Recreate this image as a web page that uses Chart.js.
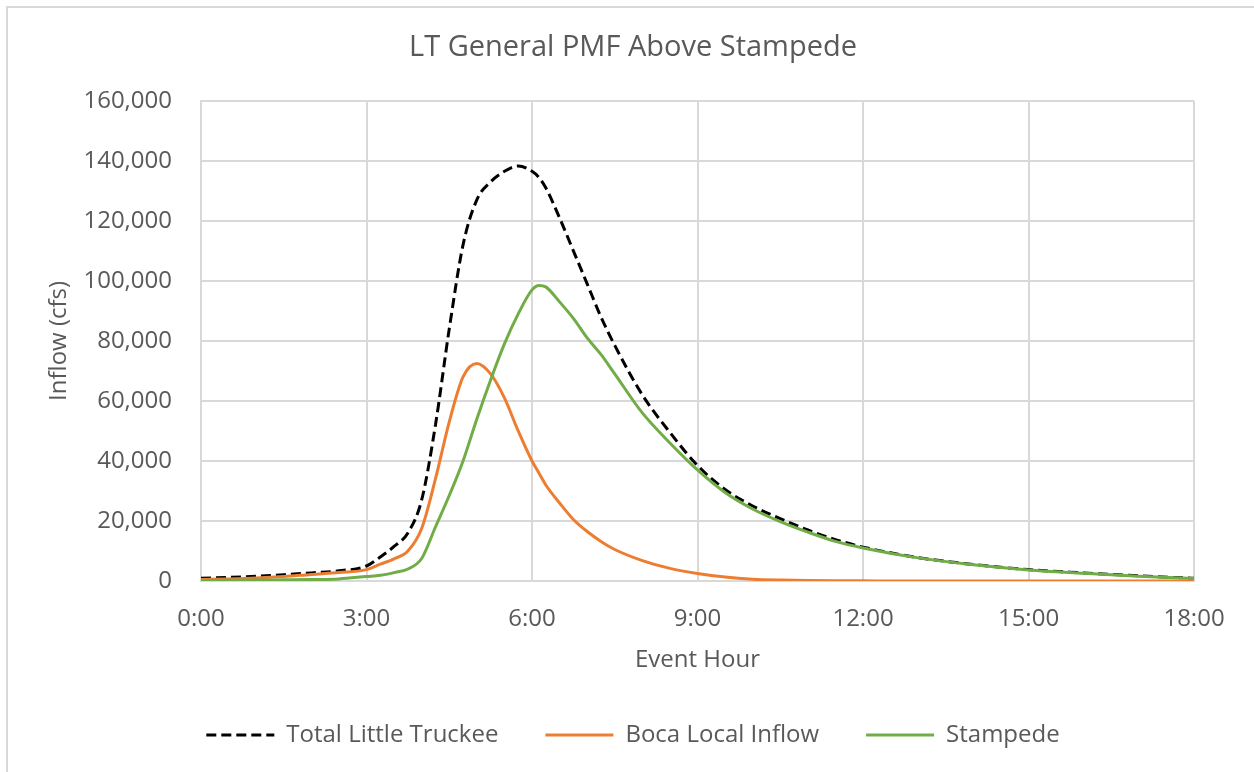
<!DOCTYPE html>
<html>
<head>
<meta charset="utf-8">
<script src="https://cdn.jsdelivr.net/npm/chart.js@4.4.1/dist/chart.umd.min.js"></script>
<style>
  html, body { margin: 0; padding: 0; background: #fff; }
  #wrap { position: absolute; left: 0; top: 0; width: 1254px; height: 772px; }
</style>
</head>
<body>
<div id="wrap"><canvas id="chart" width="1254" height="772"></canvas></div>
<script>
// Event hour of each sample (hours since start of the event)
const hours = [0, 0.5, 1, 1.5, 2, 2.5, 3, 3.25, 3.5, 3.75, 4, 4.25, 4.5, 4.75, 5, 5.25, 5.5, 5.75,
  6, 6.125, 6.25, 6.5, 6.75, 7, 7.25, 7.5, 8, 8.5, 9, 9.5, 10, 10.5, 11, 11.5, 12, 13, 14, 15, 16, 17, 18];

// Inflow (cfs)
const totalLittleTruckee = [900, 1200, 1600, 2100, 2700, 3400, 5000, 8000, 11500, 16000, 27000, 52000,
  84000, 112000, 127000, 133000, 136500, 138300, 136500, 134500, 131000, 121000, 110000, 99000, 88000, 78500,
  62000, 49500, 38500, 30500, 25000, 20800, 17000, 13800, 11300, 7800, 5500, 3800, 2700, 1700, 900];

const bocaLocalInflow = [500, 700, 1000, 1500, 2200, 2800, 3800, 5600, 7400, 10000, 17500, 34000,
  53000, 68000, 72500, 69000, 61000, 50000, 40000, 36000, 32000, 26000, 20500, 16500, 13200, 10500,
  6800, 4200, 2500, 1300, 600, 300, 150, 80, 50, 0, 0, 0, 0, 0, 0];

const stampede = [200, 250, 300, 400, 500, 700, 1500, 1900, 2800, 4000, 7500, 18000,
  28500, 40000, 54000, 67000, 79000, 89000, 97000, 98500, 98000, 93000, 87500, 81000, 75500, 69000,
  56000, 46000, 37000, 29500, 24000, 19800, 16300, 13200, 11000, 7700, 5400, 3700, 2600, 1600, 800];

// Axis ticks
const hourTicks = [0, 3, 6, 9, 12, 15, 18];
const inflowTicks = [0, 20000, 40000, 60000, 80000, 100000, 120000, 140000, 160000];

const FONT = "'Open Sans', 'DejaVu Sans', sans-serif";
const TEXT = '#595959';
const GRID = '#d9d9d9';

const toPoints = (ys) => hours.map((h, i) => ({ x: h, y: ys[i] }));

// Thin frame on the left and top edges of the chart
const framePlugin = {
  id: 'frame',
  beforeDraw(chart) {
    const ctx = chart.ctx;
    ctx.save();
    ctx.fillStyle = '#ffffff';
    ctx.fillRect(0, 0, chart.width, chart.height);
    ctx.strokeStyle = GRID;
    ctx.lineWidth = 2;
    ctx.beginPath();
    ctx.moveTo(7, chart.height);
    ctx.lineTo(7, 7);
    ctx.lineTo(chart.width, 7);
    ctx.stroke();
    ctx.restore();
  }
};

const chart = new Chart(document.getElementById('chart'), {
  type: 'line',
  data: {
    datasets: [
      {
        label: 'Total Little Truckee',
        data: toPoints(totalLittleTruckee),
        borderColor: '#000000',
        backgroundColor: '#000000',
        borderWidth: 3,
        borderDash: [10, 5],
        order: 3
      },
      {
        label: 'Boca Local Inflow',
        data: toPoints(bocaLocalInflow),
        borderColor: '#ED7D31',
        backgroundColor: '#ED7D31',
        borderWidth: 3,
        order: 2
      },
      {
        label: 'Stampede',
        data: toPoints(stampede),
        borderColor: '#70AD47',
        backgroundColor: '#70AD47',
        borderWidth: 3,
        order: 1
      }
    ]
  },
  options: {
    responsive: false,
    animation: false,
    devicePixelRatio: 1,
    elements: {
      point: { radius: 0, hoverRadius: 0 },
      line: { cubicInterpolationMode: 'monotone', fill: false }
    },
    layout: { padding: { left: 72, right: 60, top: 10, bottom: 15 } },
    plugins: {
      title: {
        display: true,
        text: 'LT General PMF Above Stampede',
        color: TEXT,
        font: { family: FONT, size: 29, weight: 'normal' },
        padding: { top: 20, bottom: 36 }
      },
      legend: {
        position: 'bottom',
        labels: {
          usePointStyle: true,
          pointStyle: 'line',
          pointStyleWidth: 68,
          color: TEXT,
          font: { family: FONT, size: 24 },
          padding: 47,
          sort: (a, b) => a.datasetIndex - b.datasetIndex,
          // legend swatches use each series' own line width and dash
          generateLabels: (c) => Chart.defaults.plugins.legend.labels.generateLabels(c).map((item) => {
            const ds = c.data.datasets[item.datasetIndex];
            item.lineDash = ds.borderDash || [];
            item.lineWidth = ds.borderWidth;
            item.strokeStyle = ds.borderColor;
            return item;
          })
        }
      },
      tooltip: { enabled: false }
    },
    scales: {
      x: {
        type: 'linear',
        min: 0,
        max: 18,
        afterBuildTicks: (scale) => { scale.ticks = hourTicks.map(v => ({ value: v })); },
        afterFit: (scale) => { scale.height = 95; },
        ticks: {
          callback: (v) => v + ':00',
          color: TEXT,
          font: { family: FONT, size: 24 },
          padding: 24,
          maxRotation: 0
        },
        grid: { color: GRID, lineWidth: 2, drawTicks: false },
        border: { color: GRID, width: 2 },
        title: {
          display: true,
          text: 'Event Hour',
          color: TEXT,
          font: { family: FONT, size: 24 },
          padding: { top: 0, bottom: 1 }
        }
      },
      y: {
        min: 0,
        max: 160000,
        afterBuildTicks: (scale) => { scale.ticks = inflowTicks.map(v => ({ value: v })); },
        afterFit: (scale) => { scale.width = 129; },
        ticks: {
          callback: (v) => v.toLocaleString('en-US'),
          color: TEXT,
          font: { family: FONT, size: 24 },
          padding: 29
        },
        grid: { color: GRID, lineWidth: 2, drawTicks: false },
        border: { color: GRID, width: 2 },
        title: {
          display: true,
          text: 'Inflow (cfs)',
          color: TEXT,
          font: { family: FONT, size: 24 },
          padding: { top: -27, bottom: 0 }
        }
      }
    }
  },
  plugins: [framePlugin]
});
</script>
</body>
</html>
